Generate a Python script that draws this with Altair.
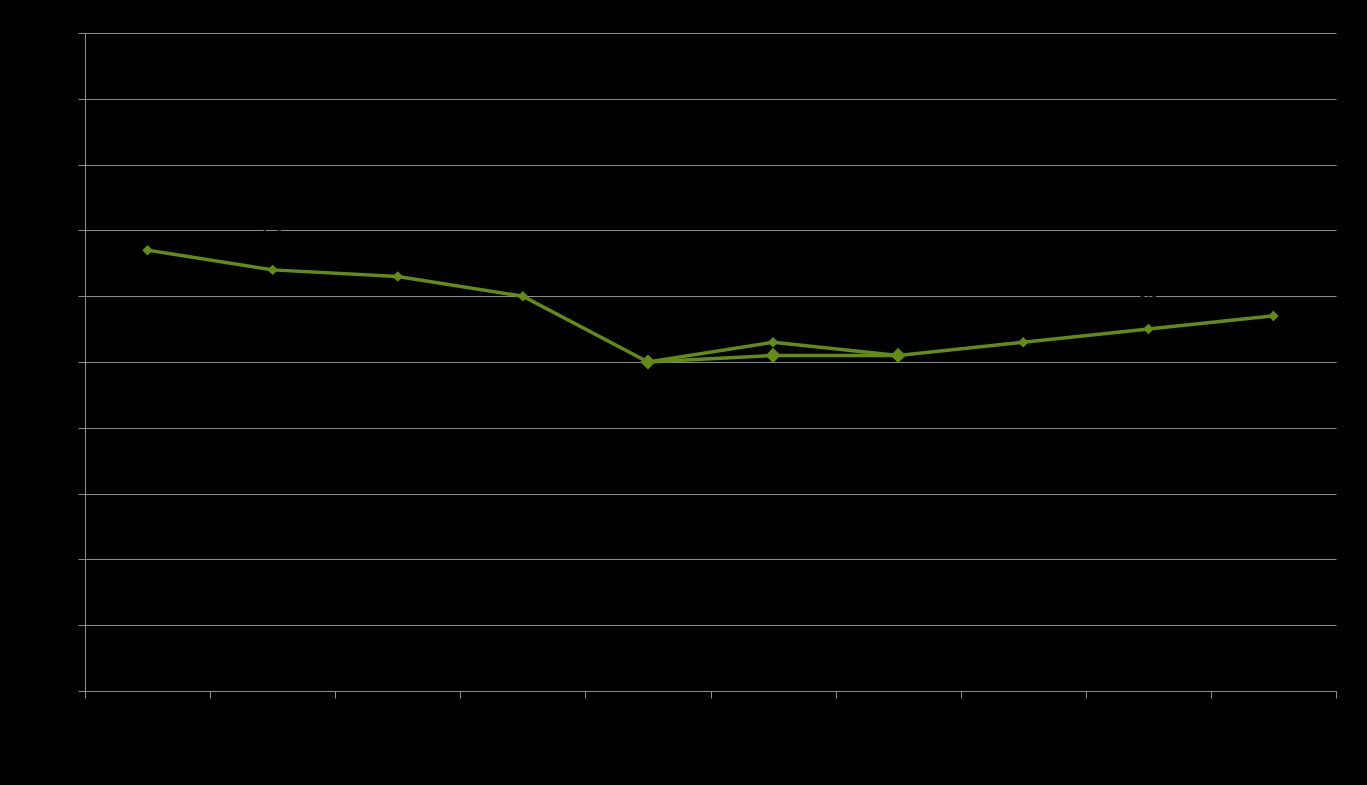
import altair as alt
import pandas as pd

categories = ["2001", "2002", "2003", "2004", "2005", "2006", "2007", "2008", "2009", "2010"]
series_a = [6.7, 6.4, 6.3, 6.0, 5.0, 5.3, 5.1, 5.3, 5.5, 5.7]
cats_b = ["2005", "2006", "2007"]
series_b = [5.0, 5.1, 5.1]

df_a = pd.DataFrame({"cat": categories, "val": series_a, "s": "A"})
df_b = pd.DataFrame({"cat": cats_b, "val": series_b, "s": "B"})

green = "#638C15"
grey = "#8C8C8C"

x = alt.X("cat:N", sort=categories, title=None,
          scale=alt.Scale(domain=categories, paddingInner=0, paddingOuter=0),
          axis=alt.Axis(labelColor="black", labelAngle=0, tickBand="extent",
                        domainColor=grey, tickColor=grey, tickSize=7, grid=False))
y = alt.Y("val:Q", title=None,
          scale=alt.Scale(domain=[0, 10], nice=False, zero=True),
          axis=alt.Axis(values=list(range(11)), labelColor="black", grid=True,
                        gridColor=grey, gridWidth=1, domainColor=grey,
                        tickColor=grey, tickSize=7))

line_a = alt.Chart(df_a).mark_line(color=green, strokeWidth=3.5).encode(x=x, y=y)
pts_a = alt.Chart(df_a).mark_point(shape="diamond", filled=True, color=green,
                                   size=110, opacity=1).encode(x=x, y=y)
line_b = alt.Chart(df_b).mark_line(color=green, strokeWidth=3.5).encode(x=x, y=y)
pts_b = alt.Chart(df_b).mark_point(shape="diamond", filled=True, color=green,
                                   size=230, opacity=1).encode(x=x, y=y)
labels = alt.Chart(df_a).mark_text(color="black", dy=-36, fontSize=14,
                                   font="Liberation Sans").encode(
    x=x, y=y, text=alt.Text("val:Q", format=".1f"))

chart = alt.layer(line_b, line_a, pts_a, pts_b, labels).properties(
    width=1251, height=658,
    autosize=alt.AutoSizeParams(type="none"),
    padding={"left": 77, "top": 25, "right": 20, "bottom": 80},
    background="black",
).configure_view(stroke=None)

chart.save("out.html", embed_options={"renderer": "svg", "actions": False,
                                      "defaultStyle": "html,body{background:#000000;}"})
